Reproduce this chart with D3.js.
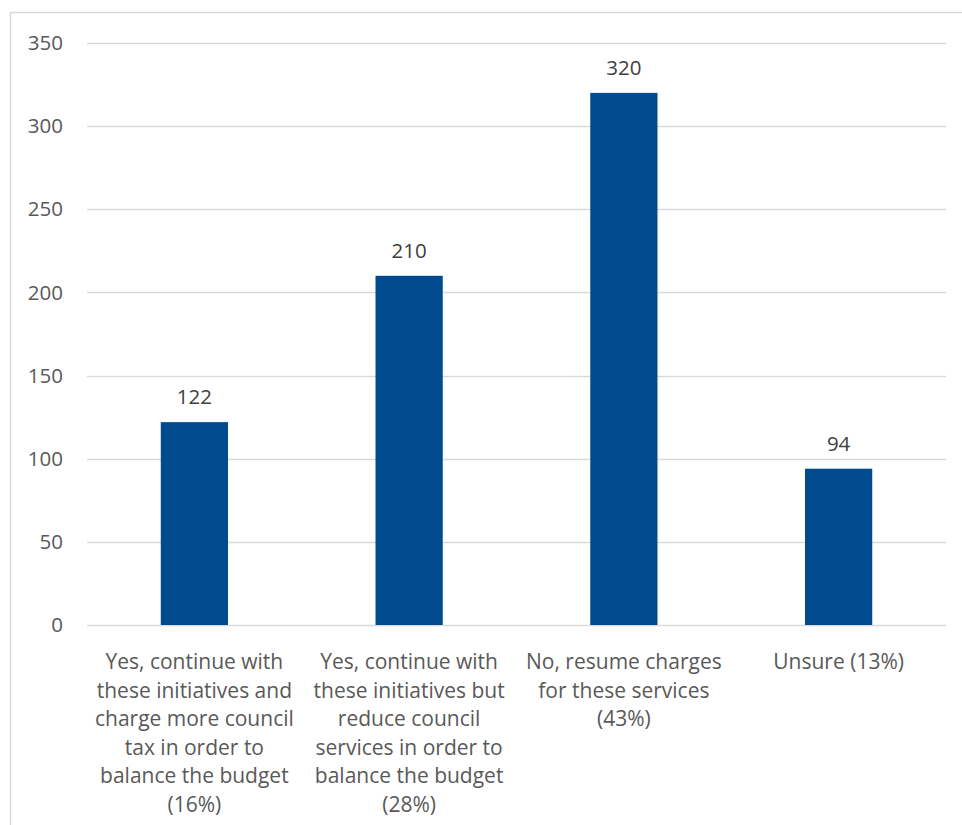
<!DOCTYPE html>
<html><head><meta charset="utf-8">
<script src="https://cdn.jsdelivr.net/npm/d3@7"></script>
<style>body{margin:0;background:#fff;} svg{display:block;font-family:"Open Sans",sans-serif;}</style>
</head><body><svg id="c" width="962" height="825"></svg>
<script>
const categories = [
  ["Yes, continue with","these initiatives and","charge more council","tax in order to","balance the budget","(16%)"],
  ["Yes, continue with","these initiatives but","reduce council","services in order to","balance the budget","(28%)"],
  ["No, resume charges","for these services","(43%)"],
  ["Unsure (13%)"]
];
const values = [122, 210, 320, 94];
const yTicks = [0, 50, 100, 150, 200, 250, 300, 350];

const svg = d3.select("#c");
const m = {left: 87, right: 946, top: 43, bottom: 625};
svg.append("rect").attr("x",10.5).attr("y",12.5).attr("width",960).attr("height",830)
  .attr("fill","#fff").attr("stroke","#d9d9d9").attr("stroke-width",1.5);

const x = d3.scaleBand().domain(d3.range(values.length)).range([m.left, m.right]).paddingInner(0.687).paddingOuter(0.3435);
const y = d3.scaleLinear().domain([0, 350]).range([m.bottom, m.top]);

svg.append("g").selectAll("line").data(yTicks).join("line")
  .attr("x1", m.left).attr("x2", m.right)
  .attr("y1", d => Math.round(y(d))+0.5).attr("y2", d => Math.round(y(d))+0.5)
  .attr("stroke", "#d9d9d9").attr("stroke-width", 1.5);

svg.append("g").selectAll("text").data(yTicks).join("text")
  .attr("x", 63).attr("y", d => y(d)).attr("dy","0.35em").attr("text-anchor","end")
  .attr("fill","#595959").attr("font-size", 20.5).text(d => d);

svg.append("g").selectAll("rect").data(values).join("rect")
  .attr("x", (d,i) => x(i)).attr("width", x.bandwidth())
  .attr("y", d => y(d)).attr("height", d => y(0) - y(d))
  .attr("fill", "#004b8d");

svg.append("g").selectAll("text").data(values).join("text")
  .attr("x", (d,i) => x(i) + x.bandwidth()/2).attr("y", d => y(d) - 18)
  .attr("text-anchor","middle").attr("fill","#404040").attr("font-size", 20.5).text(d => d);

const lab = svg.append("g").selectAll("text").data(categories).join("text")
  .attr("x", (d,i) => x(i) + x.bandwidth()/2).attr("y", 669)
  .attr("text-anchor","middle").attr("fill","#595959").attr("font-size", 21);
lab.selectAll("tspan").data(d => d).join("tspan")
  .attr("x", function(){ return this.parentNode.getAttribute("x"); })
  .attr("dy", (d,i) => i === 0 ? 0 : 28.6).text(d => d);
</script></body></html>
